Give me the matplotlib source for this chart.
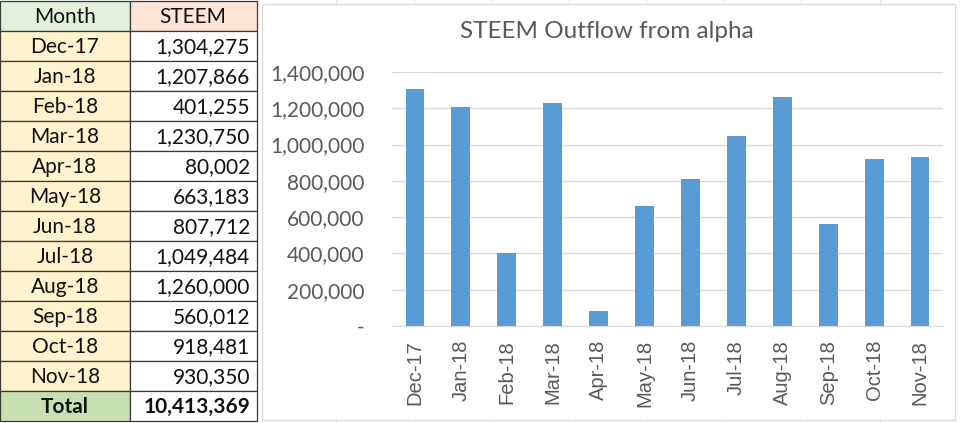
import matplotlib.pyplot as plt
from matplotlib.patches import Rectangle
from matplotlib.ticker import FuncFormatter

months = ["Dec-17", "Jan-18", "Feb-18", "Mar-18", "Apr-18", "May-18",
          "Jun-18", "Jul-18", "Aug-18", "Sep-18", "Oct-18", "Nov-18"]
steem = [1304275, 1207866, 401255, 1230750, 80002, 663183,
         807712, 1049484, 1260000, 560012, 918481, 930350]
total_label = "Total"
total_value = 10413369

W, H = 960, 423
fig = plt.figure(figsize=(W / 100, H / 100), dpi=100)
fig.patch.set_facecolor("white")
plt.rcParams['font.family'] = ['Lato', 'DejaVu Sans']
fs = 15


def px(x, y):
    # pixel coords (top-left origin) -> figure fraction
    return x / W, 1 - y / H


def cell(x0, y0, x1, y1, color):
    fx, fy = px(x0, y1)
    r = Rectangle((fx, fy), (x1 - x0) / W, (y1 - y0) / H, transform=fig.transFigure,
                  facecolor=color, edgecolor="#3a3a3a", linewidth=0.9)
    fig.add_artist(r)


# excel sheet gridlines behind everything
for gx in [336, 414, 491, 569, 646, 724, 801, 880]:
    fig.add_artist(plt.Line2D([gx / W, gx / W], [0, 1], transform=fig.transFigure,
                              color="#e4e4e4", linewidth=0.8, zorder=0))

# chart area
fx, fy = px(262, 420)
fig.add_artist(Rectangle((fx, fy), (955 - 262) / W, (420 - 4) / H, transform=fig.transFigure,
                         facecolor="white", edgecolor="#d9d9d9", linewidth=0.9, zorder=0.5))

# table
c0, c1, c2 = 0, 130, 257
top = 1
rh = 30
cell(c0, top, c1, 31, "#E2EFDA")
cell(c1, top, c2, 31, "#FCE4D6")
fig.text(*px(65, 17), "Month", ha="center", va="center", fontsize=fs, color="#111111")
fig.text(*px(193, 17), "STEEM", ha="center", va="center", fontsize=fs, color="#111111")
for i, (m, v) in enumerate(zip(months, steem)):
    y0 = 31 + rh * i
    cell(c0, y0, c1, y0 + rh, "#FFF2CC")
    cell(c1, y0, c2, y0 + rh, "white")
    fig.text(*px(65, y0 + 16), m, ha="center", va="center", fontsize=fs, color="#111111")
    fig.text(*px(250, y0 + 16), f"{v:,}", ha="right", va="center", fontsize=fs, color="#111111")
y0 = 31 + rh * len(months)
cell(c0, y0, c1, y0 + rh, "#C6E0B4")
cell(c1, y0, c2, y0 + rh, "white")
fig.text(*px(65, y0 + 16), total_label, ha="center", va="center", fontsize=fs,
         fontweight="bold", color="#111111")
fig.text(*px(250, y0 + 16), f"{total_value:,}", ha="right", va="center", fontsize=fs,
         fontweight="bold", color="#111111")

# bar chart
ax = fig.add_axes([392 / W, (H - 326) / H, (943 - 392) / W, (326 - 72) / H])
ax.set_zorder(2)
ax.set_facecolor("none")
ax.bar(range(len(months)), steem, width=0.41, color="#5B9BD5", zorder=2)
ax.set_xlim(-0.5, len(months) - 0.5)
ax.set_ylim(0, 1400000)
ax.set_yticks(range(0, 1400001, 200000))
ax.yaxis.set_major_formatter(FuncFormatter(lambda v, p: "-" if v == 0 else f"{int(v):,}"))
ax.set_xticks(range(len(months)))
ax.set_xticklabels(months, rotation=90, family="Liberation Sans", fontsize=14.5)
ax.grid(axis="y", color="#d9d9d9", linewidth=1, zorder=0)
for s in ["top", "right", "left"]:
    ax.spines[s].set_visible(False)
ax.spines["bottom"].set_color("#d9d9d9")
ax.tick_params(axis="both", length=0, colors="#595959")
ax.tick_params(axis="y", labelsize=fs, pad=20)
ax.tick_params(axis="x", pad=10)
fig.text(*px(607, 32), "STEEM Outflow from alpha", ha="center", va="center",
         fontsize=17.5, color="#595959", zorder=3)

fig.savefig("out.png", dpi=100)
